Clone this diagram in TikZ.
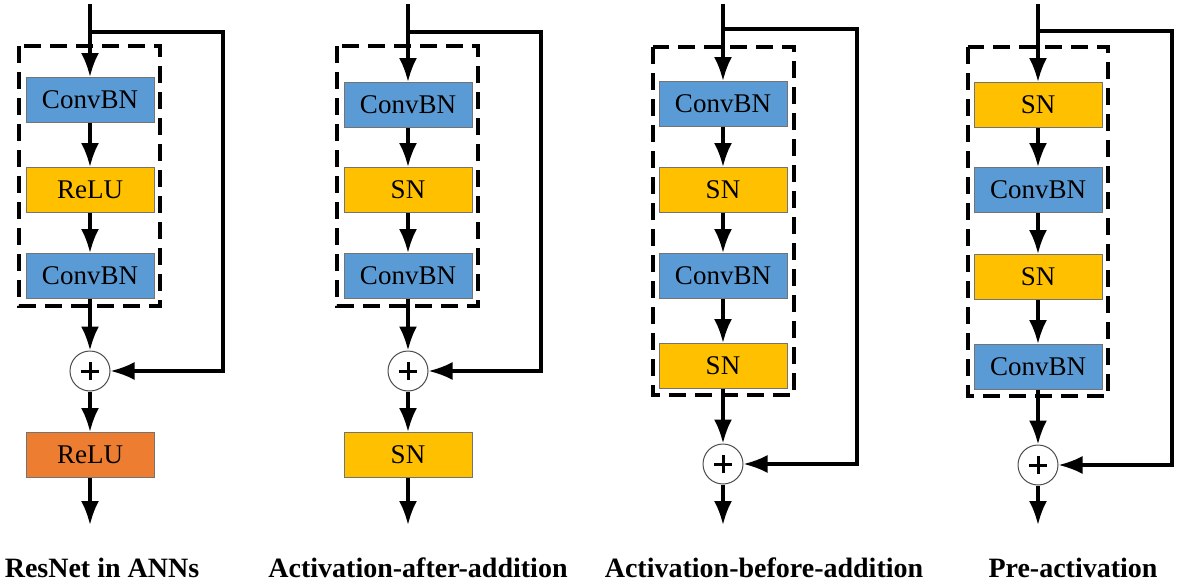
\documentclass[tikz,border=0pt]{standalone}
\usepackage{fontspec}
\setmainfont{Liberation Serif}
\usetikzlibrary{arrows.meta}
\definecolor{convblue}{HTML}{5B9BD5}
\definecolor{snyellow}{HTML}{FFC000}
\definecolor{reluorange}{HTML}{ED7D31}

\begin{document}
\begin{tikzpicture}[x=1pt,y=-1pt,
    block/.style={
% The shape:
rectangle,
% The size:
minimum width=128pt,
minimum height=45pt,
inner sep=0pt,
% The border:
draw=black!55, line width=1pt,
% The text:
font=\fontsize{27}{27}\selectfont,
},
    conv/.style={block,fill=convblue},
    sn/.style={block,fill=snyellow},
    relu/.style={block,fill=reluorange},
    addnode/.style={
% The shape:
circle,
% The size:
minimum size=40pt,
inner sep=0pt,
% The border:
draw=black!70, line width=1pt, fill=white,
% The plus sign:
path picture={
  \draw[black,line width=3pt]
    ([xshift=-9pt]path picture bounding box.center) -- ([xshift=9pt]path picture bounding box.center)
    ([yshift=-9pt]path picture bounding box.center) -- ([yshift=9pt]path picture bounding box.center);
},
},
    arr/.style={line width=3.3pt,-{Latex[length=24pt,width=18pt]}},
    skip/.style={line width=3.1pt,-{Latex[length=24pt,width=18pt]}},
    groupbox/.style={draw,line width=3.1pt,dash pattern=on 17pt off 9pt},
    titletext/.style={anchor=base,font=\fontsize{28}{28}\selectfont\bfseries},
]
  \useasboundingbox (0,0) rectangle (1179,581);

  % ResNet in ANNs
  \coordinate (in1) at (90,4);
  \coordinate (j1) at (90,32);
  \node[conv] (conv1a) at (90,100) {ConvBN};
  \node[sn]   (relu1a) at (90,190) {ReLU};
  \node[conv] (conv1b) at (90,276) {ConvBN};
  \node[addnode] (plus1) at (90,371) {};
  \node[relu] (relu1b) at (90,455) {ReLU};
  \coordinate (out1) at (90,525);
  \draw[groupbox] (19,46) rectangle (160,306);
  \draw[arr] (in1) -- (conv1a);
  \draw[arr] (conv1a) -- (relu1a);
  \draw[arr] (relu1a) -- (conv1b);
  \draw[arr] (conv1b) -- (plus1);
  \draw[arr] (plus1) -- (relu1b);
  \draw[arr] (relu1b) -- (out1);
  \draw[skip] (j1) -- ++(133,0) |- (plus1);

  % Activation-after-addition
  \coordinate (in2) at (408,4);
  \coordinate (j2) at (408,32);
  \node[conv] (conv2a) at (408,105) {ConvBN};
  \node[sn]   (sn2a) at (408,190) {SN};
  \node[conv] (conv2b) at (408,276) {ConvBN};
  \node[addnode] (plus2) at (408,371) {};
  \node[sn]   (sn2b) at (408,455) {SN};
  \coordinate (out2) at (408,525);
  \draw[groupbox] (337,46) rectangle (478,306);
  \draw[arr] (in2) -- (conv2a);
  \draw[arr] (conv2a) -- (sn2a);
  \draw[arr] (sn2a) -- (conv2b);
  \draw[arr] (conv2b) -- (plus2);
  \draw[arr] (plus2) -- (sn2b);
  \draw[arr] (sn2b) -- (out2);
  \draw[skip] (j2) -- ++(133,0) |- (plus2);

  % Activation-before-addition
  \coordinate (in3) at (723,4);
  \coordinate (j3) at (723,29);
  \node[conv] (conv3a) at (723,104) {ConvBN};
  \node[sn]   (sn3a) at (723,190) {SN};
  \node[conv] (conv3b) at (723,276) {ConvBN};
  \node[sn]   (sn3b) at (723,366) {SN};
  \node[addnode] (plus3) at (723,464) {};
  \coordinate (out3) at (723,525);
  \draw[groupbox] (653,47) rectangle (794,395);
  \draw[arr] (in3) -- (conv3a);
  \draw[arr] (conv3a) -- (sn3a);
  \draw[arr] (sn3a) -- (conv3b);
  \draw[arr] (conv3b) -- (sn3b);
  \draw[arr] (sn3b) -- (plus3);
  \draw[arr] (plus3) -- (out3);
  \draw[skip] (j3) -- ++(134,0) |- (plus3);

  % Pre-activation
  \coordinate (in4) at (1038,4);
  \coordinate (j4) at (1038,31);
  \node[sn]   (sn4a) at (1038,105) {SN};
  \node[conv] (conv4a) at (1038,190) {ConvBN};
  \node[sn]   (sn4b) at (1038,277) {SN};
  \node[conv] (conv4b) at (1038,367) {ConvBN};
  \node[addnode] (plus4) at (1038,465) {};
  \coordinate (out4) at (1038,525);
  \draw[groupbox] (968,47) rectangle (1108,396);
  \draw[arr] (in4) -- (sn4a);
  \draw[arr] (sn4a) -- (conv4a);
  \draw[arr] (conv4a) -- (sn4b);
  \draw[arr] (sn4b) -- (conv4b);
  \draw[arr] (conv4b) -- (plus4);
  \draw[arr] (plus4) -- (out4);
  \draw[skip] (j4) -- ++(134,0) |- (plus4);

  % titles
  \node[titletext] (title1) at (102,577) {ResNet in ANNs};
  \node[titletext] (title2) at (418,577) {Activation-after-addition};
  \node[titletext] (title3) at (764,577) {Activation-before-addition};
  \node[titletext] (title4) at (1073,577) {Pre-activation};
\end{tikzpicture}
\end{document}
